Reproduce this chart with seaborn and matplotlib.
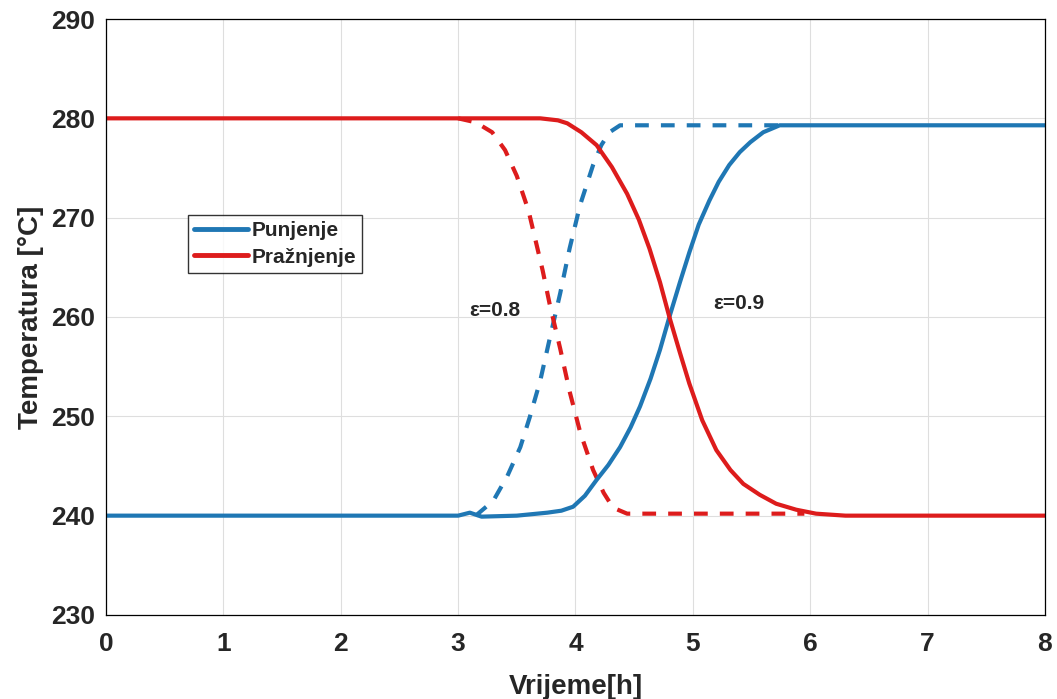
import numpy as np
import pandas as pd
import seaborn as sns
import matplotlib.pyplot as plt

#####################
### Data
#####################

# eps = 0.9, solid lines
t_pun_09 = [0, 1, 2, 3, 3.1, 3.2, 3.5, 3.76, 3.88, 3.98, 4.08, 4.18, 4.28, 4.38, 4.47, 4.55, 4.64, 4.72, 4.80, 4.89, 4.97, 5.05, 5.14, 5.22, 5.31, 5.40, 5.49, 5.60, 5.74, 6, 7, 8]
T_pun_09 = [240, 240, 240, 240, 240.3, 239.9, 240.0, 240.3, 240.5, 240.9, 242.0, 243.6, 245.1, 246.9, 248.9, 251.0, 253.8, 256.7, 260.0, 263.5, 266.5, 269.3, 271.7, 273.6, 275.3, 276.6, 277.6, 278.6, 279.3, 279.3, 279.3, 279.3]

t_pra_09 = [0, 1, 2, 3, 3.3, 3.7, 3.85, 3.93, 4.05, 4.18, 4.31, 4.44, 4.54, 4.63, 4.72, 4.80, 4.89, 4.97, 5.08, 5.20, 5.32, 5.43, 5.57, 5.71, 5.88, 6.05, 6.3, 7, 8]
T_pra_09 = [280, 280, 280, 280, 280, 280, 279.8, 279.5, 278.6, 277.3, 275.1, 272.4, 269.8, 266.9, 263.5, 260.0, 256.4, 253.3, 249.6, 246.6, 244.6, 243.2, 242.1, 241.2, 240.6, 240.2, 240.0, 240, 240]

# eps = 0.8, dashed lines
t_pun_08 = [3.15, 3.30, 3.42, 3.53, 3.61, 3.70, 3.78, 3.87, 3.95, 4.04, 4.15, 4.22, 4.29, 4.38, 5.8]
T_pun_08 = [240, 241.5, 244.0, 246.9, 249.9, 253.6, 257.8, 262.4, 266.9, 271.3, 275.3, 277.3, 278.6, 279.3, 279.3]

t_pra_08 = [3.0, 3.15, 3.29, 3.40, 3.50, 3.60, 3.72, 3.78, 3.87, 3.95, 4.04, 4.15, 4.24, 4.32, 4.44, 5.95]
T_pra_08 = [280, 279.6, 278.6, 276.8, 274.2, 270.7, 264.7, 261.3, 256.8, 252.5, 248.4, 244.6, 242.3, 240.8, 240.2, 240.2]

blue = '#1f77b4'
red = '#dd1c1c'

#####################
### Plot
#####################

sns.set_style("white")
plt.rcParams['font.family'] = ['Liberation Sans', 'DejaVu Sans']
plt.rcParams['font.weight'] = 'bold'

fig = plt.figure(figsize=(10.57, 6.99), dpi=100)
ax = fig.add_axes([0.1003, 0.1202, 0.8883, 0.8526])

lw = 3
dash = (0, (3.3, 2.9))

sns.lineplot(x=t_pun_08, y=T_pun_08, color=blue, lw=lw, linestyle=dash, ax=ax)
sns.lineplot(x=t_pra_08, y=T_pra_08, color=red, lw=lw, linestyle=dash, ax=ax)
sns.lineplot(x=t_pun_09, y=T_pun_09, color=blue, lw=lw, label='Punjenje', ax=ax)
sns.lineplot(x=t_pra_09, y=T_pra_09, color=red, lw=lw, label='Pražnjenje', ax=ax)

ax.set_xlim(0, 8)
ax.set_ylim(230, 290)
ax.set_xticks(range(0, 9))
ax.set_yticks(range(230, 291, 10))
ax.grid(True, color='#dedede', linewidth=0.8)
ax.tick_params(axis='both', direction='in', length=5, width=0.8, colors='black', labelcolor='#262626')
ax.tick_params(axis='x', labelsize=19, pad=12)
ax.tick_params(axis='y', labelsize=19, pad=8)
for lab in ax.get_xticklabels() + ax.get_yticklabels():
    lab.set_fontweight('bold')
for sp in ax.spines.values():
    sp.set_color('black')
    sp.set_linewidth(0.9)

ax.set_xlabel('Vrijeme[h]', fontsize=20, fontweight='bold', labelpad=13, color='#262626')
ax.set_ylabel('Temperatura [°C]', fontsize=20, fontweight='bold', labelpad=5, color='#262626')

ax.text(3.31, 260.7, 'ε=0.8', fontsize=15, fontweight='bold', ha='center', va='center')
ax.text(5.39, 261.4, 'ε=0.9', fontsize=15, fontweight='bold', ha='center', va='center')

leg = ax.legend(loc='upper left', bbox_to_anchor=(0.0873, 0.671), fontsize=15,
                frameon=True, fancybox=False, edgecolor='black', borderpad=0.3,
                handlelength=2.6, handletextpad=0.15, labelspacing=0.35, borderaxespad=0)
leg.get_frame().set_linewidth(1.0)
for line in leg.get_lines():
    line.set_linewidth(3.5)
for t in leg.get_texts():
    t.set_fontweight('bold')

fig.savefig('out.png', dpi=100)
